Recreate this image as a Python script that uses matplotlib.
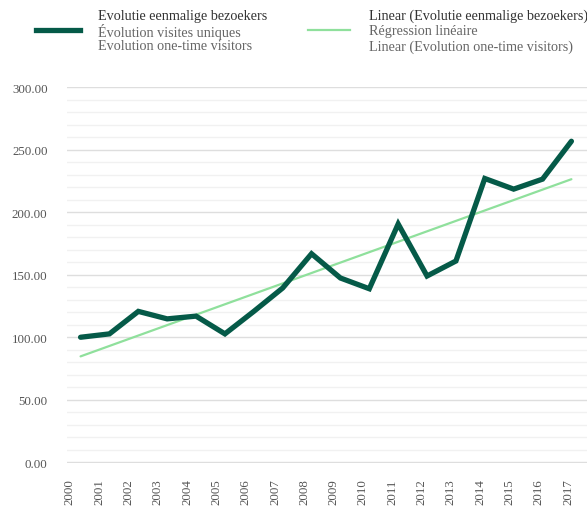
import numpy as np
import matplotlib
matplotlib.use("Agg")
import matplotlib.pyplot as plt
from matplotlib.ticker import MultipleLocator, FixedLocator
from matplotlib.lines import Line2D

# Yearly one-time visitors
years = [str(y) for y in range(2000, 2018)]
visitors = [100.0, 102.7, 120.7, 114.7, 116.9, 102.7, 120.7, 139.4, 166.8,
            147.4, 138.8, 190.6, 149.0, 161.0, 227.0, 218.5, 226.5, 256.8]

series_label = ["Evolutie eenmalige bezoekers",
                "Évolution visites uniques",
                "Evolution one-time visitors"]
trend_label = ["Linear (Evolutie eenmalige bezoekers)",
               "Régression linéaire",
               "Linear (Evolution one-time visitors)"]

DARK = "#055a48"
LIGHT = "#8fe09c"
TXT = "#666666"
FONT = ["Liberation Serif", "DejaVu Serif"]

plt.rcParams["font.family"] = FONT

fig = plt.figure(figsize=(5.87, 5.10), dpi=100)
ax = fig.add_axes([67 / 587, 46 / 510, 1 - 67 / 587, (464 - 87.5) / 510])

x = np.arange(len(years))
vals = np.array(visitors)

# least-squares trend through the yearly values
slope, intercept = np.polyfit(x, vals, 1)
trend = slope * x + intercept

ax.plot(x, trend, color=LIGHT, lw=1.6, solid_capstyle="round", zorder=3)
ax.plot(x, vals, color=DARK, lw=3.8, solid_capstyle="round",
        solid_joinstyle="miter", zorder=4)

ax.set_xlim(-0.47, len(years) - 1 + 0.54)
ax.set_ylim(-0.6, 300.6)

ax.yaxis.set_major_locator(MultipleLocator(50))
ax.yaxis.set_minor_locator(MultipleLocator(10))
ax.grid(axis="y", which="major", color="#dedede", lw=1.0, zorder=0)
ax.grid(axis="y", which="minor", color="#f1f1f1", lw=1.0, zorder=0)
ax.set_axisbelow(True)
ax.yaxis.set_major_formatter(plt.FuncFormatter(lambda v, p: f"{v:.2f}"))
ax.tick_params(axis="y", which="both", length=0, pad=14, labelsize=9.3,
               labelcolor="#555555")

# year labels sit in evenly spaced slots along the bottom
label_pos = [(70 + 29.3 * i - 80.7) / 28.87 for i in range(len(years))]
ax.xaxis.set_major_locator(FixedLocator(label_pos))
ax.set_xticklabels(years, rotation=90, fontsize=9.3, color="#555555",
                   va="top", ha="center")
ax.tick_params(axis="x", length=0, pad=11)

for s in ax.spines.values():
    s.set_visible(False)

# legend block at the top
def legend_entry(x_line0, x_line1, x_text, color, lw, lines):
    fig.add_artist(Line2D([x_line0 / 587, x_line1 / 587],
                          [1 - 31 / 510, 1 - 31 / 510],
                          color=color, lw=lw, transform=fig.transFigure))
    ys = [16.5, 31.5, 47]
    for i, (t, yy) in enumerate(zip(lines, ys)):
        fig.text(x_text / 587, 1 - yy / 510, t, fontsize=10.2,
                 color="#333333" if i == 0 else TXT,
                 va="center", ha="left")

legend_entry(36, 80, 98, DARK, 3.8, series_label)
legend_entry(308, 350, 369, LIGHT, 1.6, trend_label)

fig.savefig("out.png", dpi=100)
